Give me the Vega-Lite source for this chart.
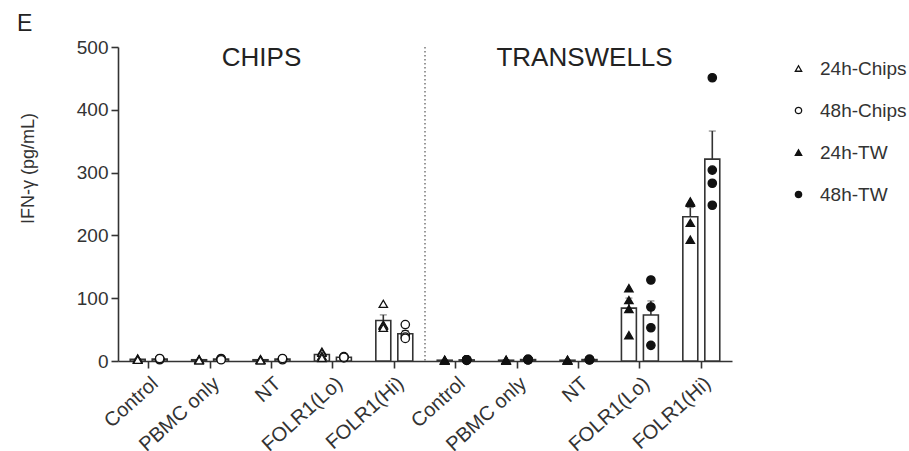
{
  "$schema": "https://vega.github.io/schema/vega-lite/v6.json",
  "width": 614,
  "height": 314,
  "autosize": {"type": "none"},
  "padding": {"left": 118, "top": 47, "right": 177, "bottom": 90},
  "background": "white",
  "title": {"text": "E", "anchor": "start", "frame": "group", "dx": -101, "offset": 2, "fontSize": 23, "fontWeight": "normal", "color": "#222", "font": "Liberation Sans"},
  "config": {
    "view": {"stroke": null},
    "font": "Liberation Sans",
    "axis": {"domainColor": "#333", "domainWidth": 1.6, "tickColor": "#333", "tickWidth": 1.6, "tickSize": 7, "labelColor": "#333", "labelFontSize": 19, "titleColor": "#333", "grid": false},
    "legend": {"orient": "right", "offset": 45, "padding": 12, "labelFontSize": 19, "labelColor": "#333", "rowPadding": 22, "symbolSize": 40, "symbolStrokeWidth": 1.3, "labelOffset": 12}
  },
  "datasets": {
    "points": [
      {"cat": "Chips|Control", "time": "24h", "series": "24h-Chips", "value": 3},
      {"cat": "Chips|Control", "time": "24h", "series": "24h-Chips", "value": 2},
      {"cat": "Chips|Control", "time": "24h", "series": "24h-Chips", "value": 4},
      {"cat": "Chips|Control", "time": "24h", "series": "24h-Chips", "value": 2},
      {"cat": "Chips|Control", "time": "48h", "series": "48h-Chips", "value": 3},
      {"cat": "Chips|Control", "time": "48h", "series": "48h-Chips", "value": 2},
      {"cat": "Chips|Control", "time": "48h", "series": "48h-Chips", "value": 3},
      {"cat": "Chips|Control", "time": "48h", "series": "48h-Chips", "value": 4},
      {"cat": "Chips|PBMC only", "time": "24h", "series": "24h-Chips", "value": 2},
      {"cat": "Chips|PBMC only", "time": "24h", "series": "24h-Chips", "value": 3},
      {"cat": "Chips|PBMC only", "time": "24h", "series": "24h-Chips", "value": 2},
      {"cat": "Chips|PBMC only", "time": "24h", "series": "24h-Chips", "value": 1},
      {"cat": "Chips|PBMC only", "time": "48h", "series": "48h-Chips", "value": 3},
      {"cat": "Chips|PBMC only", "time": "48h", "series": "48h-Chips", "value": 4},
      {"cat": "Chips|PBMC only", "time": "48h", "series": "48h-Chips", "value": 3},
      {"cat": "Chips|PBMC only", "time": "48h", "series": "48h-Chips", "value": 2},
      {"cat": "Chips|NT", "time": "24h", "series": "24h-Chips", "value": 2},
      {"cat": "Chips|NT", "time": "24h", "series": "24h-Chips", "value": 3},
      {"cat": "Chips|NT", "time": "24h", "series": "24h-Chips", "value": 2},
      {"cat": "Chips|NT", "time": "24h", "series": "24h-Chips", "value": 1},
      {"cat": "Chips|NT", "time": "48h", "series": "48h-Chips", "value": 3},
      {"cat": "Chips|NT", "time": "48h", "series": "48h-Chips", "value": 3},
      {"cat": "Chips|NT", "time": "48h", "series": "48h-Chips", "value": 2},
      {"cat": "Chips|NT", "time": "48h", "series": "48h-Chips", "value": 4},
      {"cat": "Chips|FOLR1(Lo)", "time": "24h", "series": "24h-Chips", "value": 15},
      {"cat": "Chips|FOLR1(Lo)", "time": "24h", "series": "24h-Chips", "value": 13},
      {"cat": "Chips|FOLR1(Lo)", "time": "24h", "series": "24h-Chips", "value": 8},
      {"cat": "Chips|FOLR1(Lo)", "time": "24h", "series": "24h-Chips", "value": 5},
      {"cat": "Chips|FOLR1(Lo)", "time": "48h", "series": "48h-Chips", "value": 7},
      {"cat": "Chips|FOLR1(Lo)", "time": "48h", "series": "48h-Chips", "value": 6},
      {"cat": "Chips|FOLR1(Lo)", "time": "48h", "series": "48h-Chips", "value": 5},
      {"cat": "Chips|FOLR1(Lo)", "time": "48h", "series": "48h-Chips", "value": 6},
      {"cat": "Chips|FOLR1(Hi)", "time": "24h", "series": "24h-Chips", "value": 91},
      {"cat": "Chips|FOLR1(Hi)", "time": "24h", "series": "24h-Chips", "value": 58},
      {"cat": "Chips|FOLR1(Hi)", "time": "24h", "series": "24h-Chips", "value": 56},
      {"cat": "Chips|FOLR1(Hi)", "time": "24h", "series": "24h-Chips", "value": 53},
      {"cat": "Chips|FOLR1(Hi)", "time": "48h", "series": "48h-Chips", "value": 58},
      {"cat": "Chips|FOLR1(Hi)", "time": "48h", "series": "48h-Chips", "value": 42},
      {"cat": "Chips|FOLR1(Hi)", "time": "48h", "series": "48h-Chips", "value": 38},
      {"cat": "Chips|FOLR1(Hi)", "time": "48h", "series": "48h-Chips", "value": 36},
      {"cat": "TW|Control", "time": "24h", "series": "24h-TW", "value": 1},
      {"cat": "TW|Control", "time": "24h", "series": "24h-TW", "value": 1},
      {"cat": "TW|Control", "time": "24h", "series": "24h-TW", "value": 2},
      {"cat": "TW|Control", "time": "24h", "series": "24h-TW", "value": 1},
      {"cat": "TW|Control", "time": "48h", "series": "48h-TW", "value": 2},
      {"cat": "TW|Control", "time": "48h", "series": "48h-TW", "value": 2},
      {"cat": "TW|Control", "time": "48h", "series": "48h-TW", "value": 1},
      {"cat": "TW|Control", "time": "48h", "series": "48h-TW", "value": 2},
      {"cat": "TW|PBMC only", "time": "24h", "series": "24h-TW", "value": 1},
      {"cat": "TW|PBMC only", "time": "24h", "series": "24h-TW", "value": 2},
      {"cat": "TW|PBMC only", "time": "24h", "series": "24h-TW", "value": 1},
      {"cat": "TW|PBMC only", "time": "24h", "series": "24h-TW", "value": 1},
      {"cat": "TW|PBMC only", "time": "48h", "series": "48h-TW", "value": 2},
      {"cat": "TW|PBMC only", "time": "48h", "series": "48h-TW", "value": 3},
      {"cat": "TW|PBMC only", "time": "48h", "series": "48h-TW", "value": 2},
      {"cat": "TW|PBMC only", "time": "48h", "series": "48h-TW", "value": 2},
      {"cat": "TW|NT", "time": "24h", "series": "24h-TW", "value": 1},
      {"cat": "TW|NT", "time": "24h", "series": "24h-TW", "value": 1},
      {"cat": "TW|NT", "time": "24h", "series": "24h-TW", "value": 2},
      {"cat": "TW|NT", "time": "24h", "series": "24h-TW", "value": 1},
      {"cat": "TW|NT", "time": "48h", "series": "48h-TW", "value": 2},
      {"cat": "TW|NT", "time": "48h", "series": "48h-TW", "value": 2},
      {"cat": "TW|NT", "time": "48h", "series": "48h-TW", "value": 3},
      {"cat": "TW|NT", "time": "48h", "series": "48h-TW", "value": 2},
      {"cat": "TW|FOLR1(Lo)", "time": "24h", "series": "24h-TW", "value": 116},
      {"cat": "TW|FOLR1(Lo)", "time": "24h", "series": "24h-TW", "value": 97},
      {"cat": "TW|FOLR1(Lo)", "time": "24h", "series": "24h-TW", "value": 83},
      {"cat": "TW|FOLR1(Lo)", "time": "24h", "series": "24h-TW", "value": 41},
      {"cat": "TW|FOLR1(Lo)", "time": "48h", "series": "48h-TW", "value": 129},
      {"cat": "TW|FOLR1(Lo)", "time": "48h", "series": "48h-TW", "value": 86},
      {"cat": "TW|FOLR1(Lo)", "time": "48h", "series": "48h-TW", "value": 53},
      {"cat": "TW|FOLR1(Lo)", "time": "48h", "series": "48h-TW", "value": 25},
      {"cat": "TW|FOLR1(Hi)", "time": "24h", "series": "24h-TW", "value": 252},
      {"cat": "TW|FOLR1(Hi)", "time": "24h", "series": "24h-TW", "value": 254},
      {"cat": "TW|FOLR1(Hi)", "time": "24h", "series": "24h-TW", "value": 220},
      {"cat": "TW|FOLR1(Hi)", "time": "24h", "series": "24h-TW", "value": 193},
      {"cat": "TW|FOLR1(Hi)", "time": "48h", "series": "48h-TW", "value": 451},
      {"cat": "TW|FOLR1(Hi)", "time": "48h", "series": "48h-TW", "value": 304},
      {"cat": "TW|FOLR1(Hi)", "time": "48h", "series": "48h-TW", "value": 283},
      {"cat": "TW|FOLR1(Hi)", "time": "48h", "series": "48h-TW", "value": 248}
    ],
    "chipsLabel": [{"cat": "Chips|NT", "label": "CHIPS"}],
    "twLabel": [{"cat": "TW|NT", "label": "TRANSWELLS"}],
    "divider": [{"cat": "TW|Control"}]
  },
  "encoding": {
    "x": {
      "field": "cat",
      "type": "nominal",
      "sort": ["Chips|Control", "Chips|PBMC only", "Chips|NT", "Chips|FOLR1(Lo)", "Chips|FOLR1(Hi)", "TW|Control", "TW|PBMC only", "TW|NT", "TW|FOLR1(Lo)", "TW|FOLR1(Hi)"],
      "scale": {"paddingInner": 0, "paddingOuter": 0},
      "axis": {"title": null, "labelAngle": -42, "labelPadding": 5, "labelFontSize": 20, "labelExpr": "split(datum.value, '|')[1]"}
    }
  },
  "layer": [
    {
      "data": {"name": "points"},
      "mark": {"type": "errorbar", "extent": "stderr", "ticks": {"size": 7, "color": "#333", "strokeWidth": 1.6}, "rule": {"color": "#333", "strokeWidth": 1.6}},
      "encoding": {
        "xOffset": {"field": "time", "type": "nominal", "scale": {"domain": ["24h", "48h"], "paddingInner": 0.32, "paddingOuter": 0.556}},
        "y": {"field": "value", "type": "quantitative", "scale": {"domain": [0, 500]}, "axis": {"title": "IFN-γ (pg/mL)", "titleFontSize": 18, "titleFontWeight": "normal", "titleAngle": -90, "titleX": -90, "titleY": 121, "titleAlign": "center", "titleBaseline": "middle", "values": [0, 100, 200, 300, 400, 500], "labelPadding": 3}}
      }
    },
    {
      "data": {"name": "points"},
      "mark": {"type": "bar", "fill": "white", "stroke": "#333", "strokeWidth": 1.6},
      "encoding": {
        "xOffset": {"field": "time", "type": "nominal"},
        "y": {"aggregate": "mean", "field": "value", "type": "quantitative"}
      }
    },
    {
      "data": {"name": "points"},
      "mark": {"type": "point", "strokeWidth": 1.3, "size": 70, "opacity": 1},
      "encoding": {
        "xOffset": {"field": "time", "type": "nominal"},
        "y": {"field": "value", "type": "quantitative"},
        "shape": {"field": "series", "type": "nominal", "title": null, "scale": {"domain": ["24h-Chips", "48h-Chips", "24h-TW", "48h-TW"], "range": ["triangle-up", "circle", "triangle-up", "circle"]}},
        "fill": {"field": "series", "type": "nominal", "title": null, "scale": {"domain": ["24h-Chips", "48h-Chips", "24h-TW", "48h-TW"], "range": ["white", "white", "#111", "#111"]}},
        "stroke": {"field": "series", "type": "nominal", "title": null, "scale": {"domain": ["24h-Chips", "48h-Chips", "24h-TW", "48h-TW"], "range": ["#111", "#111", "#111", "#111"]}}
      }
    },
    {
      "data": {"name": "divider"},
      "mark": {"type": "rule", "stroke": "#555", "strokeWidth": 1.2, "strokeDash": [1.5, 2.5]},
      "encoding": {"x": {"field": "cat", "type": "nominal", "bandPosition": 0}}
    },
    {
      "data": {"name": "chipsLabel"},
      "mark": {"type": "text", "fontSize": 26, "color": "#222", "baseline": "middle", "dx": -10},
      "encoding": {"y": {"datum": 482}, "text": {"field": "label"}}
    },
    {
      "data": {"name": "twLabel"},
      "mark": {"type": "text", "fontSize": 26, "color": "#222", "baseline": "middle", "dx": 6},
      "encoding": {"y": {"datum": 482}, "text": {"field": "label"}}
    }
  ]
}
